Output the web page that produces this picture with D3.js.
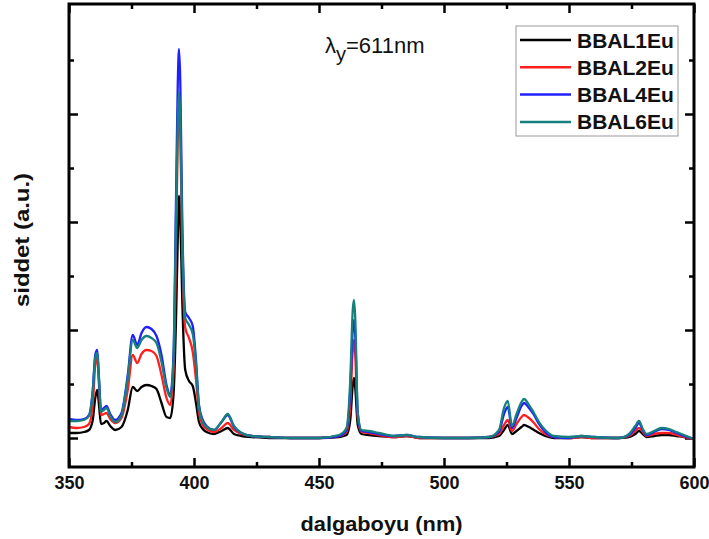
<!DOCTYPE html>
<html>
<head>
<meta charset="utf-8">
<script src="https://cdn.jsdelivr.net/npm/d3@7"></script>
<style>
  body { margin: 0; background: #fff; }
  text { font-family: 'Liberation Sans', Arial, sans-serif; }
</style>
</head>
<body>
<svg id="chart" width="709" height="539"></svg>
<script>
// excitation spectra, monitored at 611 nm (intensity in a.u.)
const wavelength = [350,353,356,358,359.5, 360.5,361.3,362,362.8,364, 365,366.5,368.5,371,373.5,
  375.5,377.3,379,381,383, 385,387,389,390.5,391.8, 392.8,393.5,394,394.5,395.3,
  396.5,398,399.5,400.8,402, 403.5,405,408,411,413.5, 416,419,423,430,440,
  450,458,461,462.5,463.5, 464,464.5,465.5,467,470, 474,480,485,490,500,
  510,518,522,524,525.5, 527.2,529,531,532,534, 536,538,540.5,544,550,
  555,560,570,574,576.5, 578,579.5,581,584,587, 590,593,596,600];

const bbal1 = [5,5,6,8,18, 40,48,33,14,15, 17,12,8,11,28, 51,47,51,53,52, 49,35,21,20,43,
  118,198,242,223,138, 68,57,52,35,16, 9,6,4,7,10, 4,2,1,0,0, 0,1,3,18,53,
  60,50,13,4,3, 2,1,2,0,0, 0,0,2,8,13, 4,7,11,13,11, 8,5,2,0,0,
  1,0,0,1,4, 7,4,1,2,3, 3,2,1,-1];
const bbal2 = [11,10,11,14,33, 73,80,53,23,24, 25,19,15,20,48, 83,75,84,88,87, 82,63,40,33,68,
  188,298,340,308,188, 110,100,86,58,25, 13,9,6,10,15, 8,4,2,1,0, 0,2,6,33,88,
  98,83,20,6,5, 3,1,2,0,0, 0,1,4,13,18, 7,14,21,23,20, 15,9,4,1,0,
  1,0,0,2,7, 10,6,2,4,5, 5,3,1,-1];
const bbal4 = [19,18,19,23,48, 83,88,60,28,30, 32,24,18,25,63, 103,93,105,111,109, 102,83,53,43,83,
  238,353,389,358,218, 126,120,112,78,33, 18,12,8,16,23, 11,5,2,1,0, 0,2,8,48,108,
  118,103,24,7,6, 4,2,3,1,0, 0,1,6,24,31, 10,20,32,35,30, 23,14,6,1,0,
  2,1,0,3,10, 15,8,3,6,9, 8,5,2,-1];
const bbal6 = [17,17,18,22,46, 80,85,58,26,28, 30,22,16,23,60, 98,90,98,102,100, 95,76,50,41,78,
  218,318,346,320,203, 120,113,104,73,31, 16,11,8,16,24, 12,5,2,1,0, 0,3,10,58,128,
  138,120,26,8,7, 5,2,3,1,0, 0,1,8,30,37, 12,24,36,39,33, 25,16,8,2,1,
  2,1,0,4,12, 17,9,4,7,10, 9,6,3,-1];

const seriesNames = ['BBAL1Eu', 'BBAL2Eu', 'BBAL4Eu', 'BBAL6Eu'];
const seriesValues = [bbal1, bbal2, bbal4, bbal6];
const seriesColors = ['#000000', '#ff1f1f', '#1f1fff', '#17807f'];

const xTicks = [350, 400, 450, 500, 550, 600];
const xMinorTicks = [375, 425, 475, 525, 575];
const yTicks = [0, 108, 216, 324];
const yMinorTicks = [54, 162, 270, 378];

const plotLeft = 69, plotRight = 694, plotTop = 4, plotBottom = 467;

const svg = d3.select('#chart');

const x = d3.scaleLinear().domain([350, 600]).range([plotLeft, plotRight]);
const y = d3.scaleLinear().domain([-29, 434]).range([plotBottom, plotTop]);

function addAxis(axis, tx, ty) {
  const g = svg.append('g')
    .attr('transform', `translate(${tx},${ty})`)
    .call(axis);
  g.select('.domain').remove();
  g.selectAll('line').attr('stroke-width', 2.5);
  return g;
}

// bottom axis with labels, others mirrored, all ticks inward
const xAxis = addAxis(d3.axisBottom(x).tickValues(xTicks).tickSize(-9).tickPadding(9), 0, plotBottom);
xAxis.selectAll('text')
  .attr('font-size', 18)
  .attr('font-weight', 'bold')
  .attr('font-family', "'Liberation Sans', Arial, sans-serif")
  .attr('fill', '#111');
addAxis(d3.axisBottom(x).tickValues(xMinorTicks).tickSize(-5).tickFormat(''), 0, plotBottom);
addAxis(d3.axisTop(x).tickValues(xTicks).tickSize(-9).tickFormat(''), 0, plotTop);
addAxis(d3.axisTop(x).tickValues(xMinorTicks).tickSize(-5).tickFormat(''), 0, plotTop);
addAxis(d3.axisLeft(y).tickValues(yTicks).tickSize(-9).tickFormat(''), plotLeft, 0);
addAxis(d3.axisLeft(y).tickValues(yMinorTicks).tickSize(-5).tickFormat(''), plotLeft, 0);
addAxis(d3.axisRight(y).tickValues(yTicks).tickSize(-9).tickFormat(''), plotRight, 0);
addAxis(d3.axisRight(y).tickValues(yMinorTicks).tickSize(-5).tickFormat(''), plotRight, 0);

// curves
const line = d3.line()
  .x((d, i) => x(wavelength[i]))
  .y((d) => y(d))
  .curve(d3.curveMonotoneX);

svg.append('g')
  .selectAll('path')
  .data(seriesValues)
  .enter()
  .append('path')
  .attr('d', line)
  .attr('fill', 'none')
  .attr('stroke', (d, i) => seriesColors[i])
  .attr('stroke-width', 2.3)
  .attr('stroke-linejoin', 'round');

// frame
svg.append('rect')
  .attr('x', plotLeft)
  .attr('y', plotTop)
  .attr('width', plotRight - plotLeft)
  .attr('height', plotBottom - plotTop)
  .attr('fill', 'none')
  .attr('stroke', '#000')
  .attr('stroke-width', 3);

// axis titles
svg.append('text')
  .text('dalgaboyu (nm)')
  .attr('x', (plotLeft + plotRight) / 2)
  .attr('y', 531)
  .attr('text-anchor', 'middle')
  .attr('font-size', 21)
  .attr('font-weight', 'bold')
  .attr('textLength', 162)
  .attr('lengthAdjust', 'spacingAndGlyphs')
  .attr('fill', '#111');

svg.append('text')
  .text('siddet (a.u.)')
  .attr('transform', 'translate(29, 240) rotate(-90)')
  .attr('text-anchor', 'middle')
  .attr('font-size', 20)
  .attr('font-weight', 'bold')
  .attr('textLength', 134)
  .attr('lengthAdjust', 'spacingAndGlyphs')
  .attr('fill', '#111');

// annotation
const note = svg.append('text')
  .attr('x', 325)
  .attr('y', 53)
  .attr('font-size', 22)
  .attr('fill', '#111');
note.append('tspan').text('λ');
note.append('tspan').text('y').attr('dy', 8).attr('font-size', 20);
note.append('tspan').text('=611nm').attr('dy', -8);

// legend
const legend = svg.append('g');
legend.append('rect')
  .attr('x', 516)
  .attr('y', 26)
  .attr('width', 162)
  .attr('height', 110)
  .attr('fill', '#fff')
  .attr('stroke', '#999')
  .attr('stroke-width', 1);

const rows = legend.selectAll('g.row')
  .data(seriesNames)
  .enter()
  .append('g')
  .attr('class', 'row')
  .attr('transform', (d, i) => `translate(0, ${40 + i * 27.3})`);

rows.append('line')
  .attr('x1', 520)
  .attr('x2', 571)
  .attr('stroke', (d, i) => seriesColors[i])
  .attr('stroke-width', 2.5);

rows.append('text')
  .text((d) => d)
  .attr('x', 577)
  .attr('dy', '0.36em')
  .attr('font-size', 21)
  .attr('font-weight', 'bold')
  .attr('fill', '#111');
</script>
</body>
</html>
